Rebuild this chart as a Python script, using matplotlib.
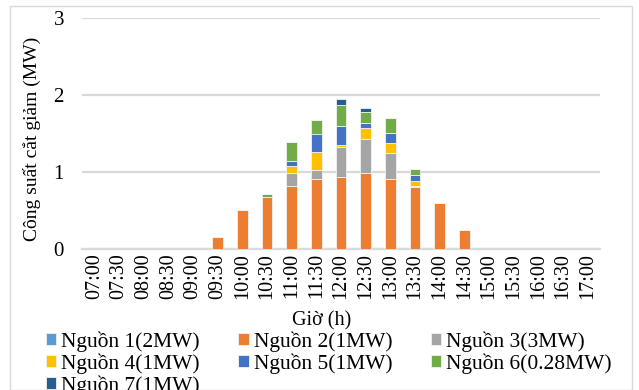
import matplotlib
matplotlib.use("Agg")
import matplotlib.pyplot as plt
import numpy as np
from matplotlib.patches import Rectangle

times = ["07:00", "07:30", "08:00", "08:30", "09:00", "09:30", "10:00", "10:30",
         "11:00", "11:30", "12:00", "12:30", "13:00", "13:30", "14:00", "14:30",
         "15:00", "15:30", "16:00", "16:30", "17:00"]

series_names = ["Nguồn 1(2MW)", "Nguồn 2(1MW)", "Nguồn 3(3MW)", "Nguồn 4(1MW)",
                "Nguồn 5(1MW)", "Nguồn 6(0.28MW)", "Nguồn 7(1MW)"]
colors = ["#5B9BD5", "#ED7D31", "#A5A5A5", "#FFC000", "#4472C4", "#70AD47", "#255E91"]

nguon1 = [0, 0, 0, 0, 0, 0, 0, 0, 0, 0, 0, 0, 0, 0, 0, 0, 0, 0, 0, 0, 0]
nguon2 = [0, 0, 0, 0, 0, 0.15, 0.50, 0.68, 0.82, 0.91, 0.93, 0.99, 0.91, 0.80, 0.60, 0.25, 0, 0, 0, 0, 0]
nguon3 = [0, 0, 0, 0, 0, 0, 0, 0, 0.165, 0.12, 0.39, 0.44, 0.34, 0.015, 0, 0, 0, 0, 0, 0, 0]
nguon4 = [0, 0, 0, 0, 0, 0, 0, 0, 0.09, 0.235, 0.035, 0.145, 0.125, 0.07, 0, 0, 0, 0, 0, 0, 0]
nguon5 = [0, 0, 0, 0, 0, 0, 0, 0, 0.07, 0.235, 0.24, 0.055, 0.135, 0.07, 0, 0, 0, 0, 0, 0, 0]
nguon6 = [0, 0, 0, 0, 0, 0, 0, 0.04, 0.24, 0.175, 0.28, 0.155, 0.19, 0.08, 0, 0, 0, 0, 0, 0, 0]
nguon7 = [0, 0, 0, 0, 0, 0, 0, 0, 0, 0, 0.075, 0.045, 0, 0, 0, 0, 0, 0, 0, 0, 0]

data = [nguon1, nguon2, nguon3, nguon4, nguon5, nguon6, nguon7]

plt.rcParams['font.family'] = ['Liberation Serif', 'DejaVu Serif']

fig = plt.figure(figsize=(6.39, 3.90), dpi=100)
ax = fig.add_axes([82/639, 1 - 249/390, (600-82)/639, (249-18)/390])

x = np.arange(len(times))
bottom = np.zeros(len(times))
handles = []
for name, vals, c in zip(series_names, data, colors):
    v = np.array(vals, dtype=float)
    b = ax.bar(x, v, width=0.42, bottom=bottom, color=c, edgecolor="#f2f2f2",
               linewidth=0.6, label=name, zorder=3)
    handles.append(b)
    bottom += v

ax.set_xlim(-0.5, len(times) - 0.5)
ax.set_ylim(0, 3)
ax.set_yticks([0, 1, 2, 3])
ax.yaxis.grid(True, color="#D9D9D9", linewidth=1.6, zorder=0)
ax.set_axisbelow(True)
for s in ["top", "right", "left"]:
    ax.spines[s].set_visible(False)
ax.spines["bottom"].set_color("#D9D9D9")
ax.spines["bottom"].set_linewidth(1.6)
ax.tick_params(axis="x", length=0, labelsize=14.5, pad=3)
ax.tick_params(axis="y", length=0, labelsize=15, pad=13)
ax.set_xticks(x)
ax.set_xticklabels(times, rotation=90)

fig.text(322/639, 1 - 321/390, "Giờ (h)", ha="center", va="center", fontsize=14.5)
fig.text(32/639, 1 - 139/390, "Công suất cắt giảm (MW)", ha="center", va="center",
         rotation=90, fontsize=14)

order = [0, 3, 6, 1, 4, 2, 5]
leg = fig.legend([handles[i] for i in order], [series_names[i] for i in order],
                 ncol=3, loc="upper left", bbox_to_anchor=(46/639, 1 - 331/390),
                 frameon=False, fontsize=15.5, handlelength=0.47, handleheight=0.47,
                 handletextpad=0.23, columnspacing=1.8, labelspacing=0.08,
                 borderpad=0, borderaxespad=0)

fig.patches.append(Rectangle((10/639, 0), 622/639, 1 - 6/390, transform=fig.transFigure,
                             fill=False, edgecolor="#D9D9D9", linewidth=1.0))

fig.savefig("out.png", dpi=100)
